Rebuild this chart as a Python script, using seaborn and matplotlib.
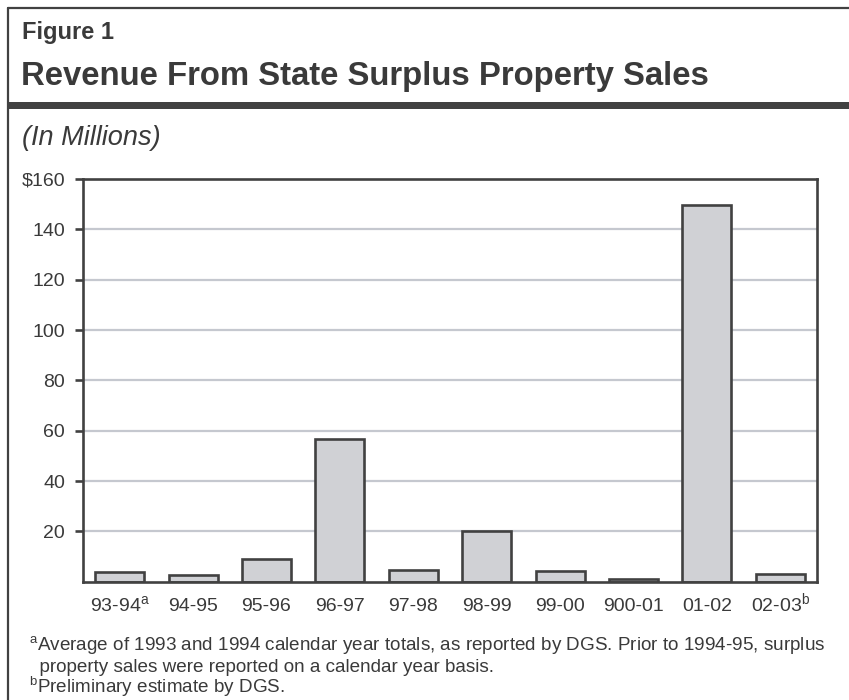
import matplotlib
matplotlib.use("Agg")
import matplotlib.pyplot as plt
from matplotlib.lines import Line2D
from matplotlib.patches import Rectangle
import seaborn as sns
import pandas as pd

# Fiscal years and revenue (millions of dollars)
years = ["93-94$^{\\mathrm{a}}$", "94-95", "95-96", "96-97", "97-98",
         "98-99", "99-00", "900-01", "01-02", "02-03$^{\\mathrm{b}}$"]
revenue = [3.9, 2.7, 9.1, 56.8, 4.5, 20.0, 4.2, 1.2, 149.5, 2.9]
ytick_values = [20, 40, 60, 80, 100, 120, 140, 160]
ytick_labels = ["20", "40", "60", "80", "100", "120", "140", "$160"]

sns.set_style("white")
plt.rcParams["font.family"] = ["Liberation Sans", "DejaVu Sans"]
plt.rcParams["mathtext.fontset"] = "custom"
plt.rcParams["mathtext.rm"] = "Liberation Sans"
plt.rcParams["mathtext.it"] = "Liberation Sans:italic"
plt.rcParams["mathtext.bf"] = "Liberation Sans:bold"

DARK = "#414141"
TEXT = "#3a3a3a"
BAR = "#d0d1d5"
GRID = "#c5c8cf"

df = pd.DataFrame({"year": years, "revenue": revenue})

fig = plt.figure(figsize=(8.49, 7.0), dpi=100)
ax = fig.add_axes([83 / 849, 1 - 581.7 / 700, (817 - 83) / 849, (581.7 - 179) / 700])

sns.barplot(data=df, x="year", y="revenue", ax=ax, color=BAR, saturation=1,
            width=0.67, edgecolor=DARK, linewidth=1.9, zorder=3)

ax.set_xlim(-0.5, len(years) - 0.5)
ax.set_ylim(0, 160)
ax.set_yticks(ytick_values)
ax.set_yticklabels(ytick_labels)
ax.set_xlabel("")
ax.set_ylabel("")

for v in ytick_values[:-1]:
    ax.axhline(v, color=GRID, linewidth=1.6, zorder=1)

for s in ax.spines.values():
    s.set_visible(True)
    s.set_color(DARK)
    s.set_linewidth(1.9)
    s.set_zorder(4)

ax.tick_params(axis="y", which="both", left=True, length=6, width=1.9,
               color=DARK, labelsize=14, labelcolor=TEXT, pad=7)
ax.tick_params(axis="x", bottom=False, length=0, labelsize=14,
               labelcolor=TEXT, pad=21)
# Put all category labels on one common baseline
for lab in ax.get_xticklabels():
    lab.set_verticalalignment("baseline")

# Outer frame: left and top rules, heavy bar under the title
fig.add_artist(Line2D([8 / 849, 8 / 849], [0, 1 - 8 / 700],
                      transform=fig.transFigure, color=DARK, linewidth=1.6))
fig.add_artist(Line2D([8 / 849, 1], [1 - 8 / 700, 1 - 8 / 700],
                      transform=fig.transFigure, color=DARK, linewidth=1.6))
fig.add_artist(Rectangle((8 / 849, 1 - 109 / 700), 1, 7.5 / 700,
                         transform=fig.transFigure, color=DARK, linewidth=0))

fig.text(22 / 849, 1 - 38.5 / 700, "Figure 1", fontsize=17, fontweight="bold",
         color=TEXT, va="baseline", ha="left")
fig.text(21 / 849, 1 - 85 / 700, "Revenue From State Surplus Property Sales",
         fontsize=23.7, fontweight="bold", color=TEXT, va="baseline", ha="left")
fig.text(22 / 849, 1 - 145 / 700, "(In Millions)", fontsize=19.5, style="italic",
         color=TEXT, va="baseline", ha="left")

notes = [
    "$^{\\mathrm{a}}$Average of 1993 and 1994 calendar year totals, as reported by DGS. Prior to 1994-95, surplus",
    "  property sales were reported on a calendar year basis.",
    "$^{\\mathrm{b}}$Preliminary estimate by DGS.",
]
for i, line in enumerate(notes):
    fig.text(29 / 849, 1 - (650 + i * 21.5) / 700, line, fontsize=13.6,
             color=TEXT, va="baseline", ha="left")

fig.savefig("out.png", dpi=100)
